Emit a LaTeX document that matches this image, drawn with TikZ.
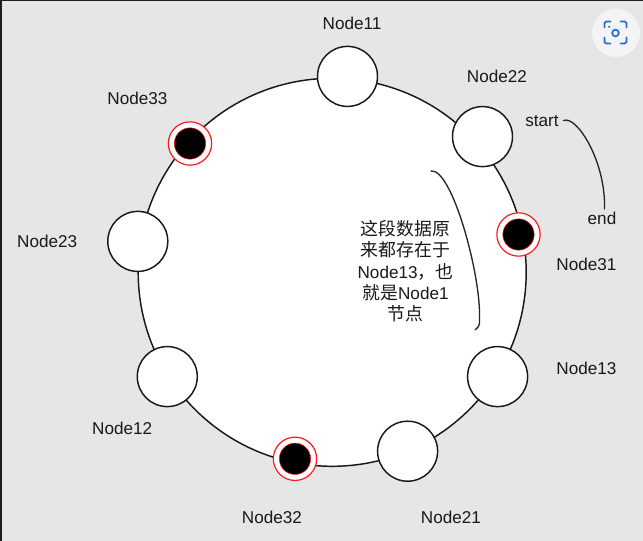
\documentclass[tikz,border=0pt]{standalone}
\usepackage{fontspec}
\setmainfont{Liberation Sans}
\newfontfamily\cjk{Noto Sans CJK SC}
\definecolor{bg}{HTML}{E6E6E6}
\definecolor{iconbg}{HTML}{F4F4F4}
\definecolor{iconblue}{HTML}{2A6CCF}
\definecolor{redring}{HTML}{FF1A1A}
\begin{document}
\begin{tikzpicture}[x=0.75pt,y=-0.75pt,
  bignode/.style={circle, draw=black!90, line width=1.1pt, fill=white, minimum size=291pt, inner sep=0pt},
  nd/.style={circle, draw=black!90, line width=1.1pt, fill=white, minimum size=45pt, inner sep=0pt},
  redout/.style={circle, draw=redring, line width=0.9pt, fill=white, minimum size=32.5pt, inner sep=0pt},
  blackdot/.style={circle, draw=redring, line width=0.4pt, fill=black, minimum size=23.5pt, inner sep=0pt},
  lbl/.style={font=\fontsize{12.85}{15}\selectfont, text=black!90, inner sep=0pt},
  note/.style={font=\fontsize{12.85}{16.05}\selectfont, text=black!90, align=center, inner sep=0pt},
  curve/.style={draw=black!85, line width=1.0pt, line cap=round}]
\useasboundingbox (0,0) rectangle (643,541);
\fill[bg] (0,0) rectangle (643,541);
\fill[black!88] (0,0) rectangle (2,541);
\fill[black!88] (0,0) rectangle (643,1.2);

% screenshot icon
\node[circle, fill=iconbg, minimum size=36pt, inner sep=0pt] (icon) at (616,33) {};
\begin{scope}[iconblue, line width=1.4pt, line cap=round, rounded corners=1.2pt]
  \draw (604.5,27.5) -- (604.5,21.5) -- (610.5,21.5);
  \draw (620.5,21.5) -- (626.5,21.5) -- (626.5,27.5);
  \draw (604.5,37.5) -- (604.5,43.5) -- (610.5,43.5);
  \draw (620.5,43.5) -- (626.5,43.5) -- (626.5,37.5);
\end{scope}
\node[circle, draw=iconblue, line width=1.3pt, minimum size=5pt, inner sep=0pt] (iconlens) at (615.5,33) {};
\fill[iconblue] (609.2,26.8) circle (1.2);

% ring
\node[bignode] (ring) at (332.2,272.3) {};

% white nodes
\node[nd] (n11) at (347.5,76.4) {};
\node[nd] (n22) at (482.5,136.6) {};
\node[nd] (n13) at (497.6,376.6) {};
\node[nd] (n21) at (407.6,451.2) {};
\node[nd] (n12) at (167.3,376.6) {};
\node[nd] (n23) at (137.8,241.4) {};

% black nodes
\node[redout] (n33) at (190,143.5) {};
\node[blackdot] (n33c) at (n33) {};
\node[redout] (n31) at (518.5,234.5) {};
\node[blackdot] (n31c) at (n31) {};
\node[redout] (n32) at (295,458.8) {};
\node[blackdot] (n32c) at (n32) {};

% labels
\node[lbl] (l11) at (352,23.5) {Node11};
\node[lbl] (l22) at (497,76) {Node22};
\node[lbl] (l33) at (137.4,98.3) {Node33};
\node[lbl] (l23) at (47.2,241) {Node23};
\node[lbl] (l31) at (586.4,264) {Node31};
\node[lbl] (l13) at (586.4,368.5) {Node13};
\node[lbl] (l12) at (122.2,428) {Node12};
\node[lbl] (l32) at (271.9,517.6) {Node32};
\node[lbl] (l21) at (451,517.6) {Node21};
\node[lbl] (lstart) at (542,121) {start};
\node[lbl] (lend) at (602,218) {end};

% note
\node[note] (txt) at (405.5,271.2) {{\cjk\fontsize{13.4}{16.05}\selectfont 这段数据原}\\{\cjk\fontsize{13.4}{16.05}\selectfont 来都存在于}\\Node13{\cjk\fontsize{13.4}{16.05}\selectfont ，也}\\{\cjk\fontsize{13.4}{16.05}\selectfont 就是}Node1\\{\cjk\fontsize{13.4}{16.05}\selectfont 节点}};

% curves
\coordinate (s1) at (563.5,120.5);
\coordinate (s2) at (604.5,209);
\draw[curve] (s1) .. controls (577,115) and (606,162) .. (s2);
\coordinate (b1) at (431,171);
\coordinate (b2) at (479.5,318);
\coordinate (b3) at (475,330);
\draw[curve] (b1) .. controls (452,168) and (481,275) .. (b2) .. controls (479.5,326) .. (b3);
\end{tikzpicture}
\end{document}
